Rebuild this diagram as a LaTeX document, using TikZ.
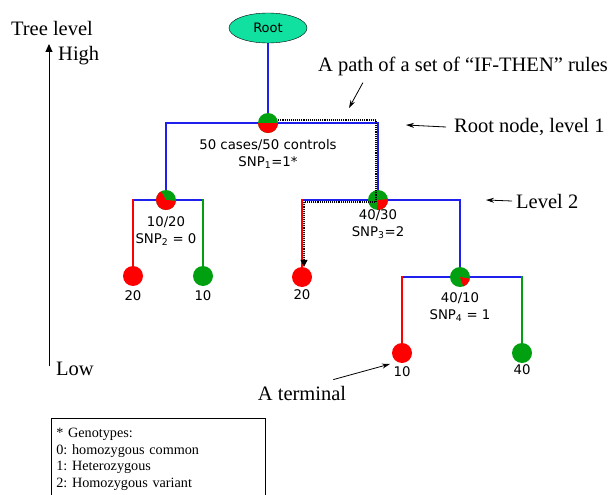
\documentclass[tikz,border=0pt]{standalone}
\usepackage{fontspec}
\setmainfont{Liberation Serif}
\newfontfamily\treefont{DejaVu Sans}
\usepackage{tikz}
\usetikzlibrary{positioning,arrows.meta,shapes.geometric,backgrounds,calc}
\frenchspacing
\definecolor{tred}{HTML}{FF0000}
\definecolor{tgreen}{HTML}{00A010}
\definecolor{tblue}{HTML}{2020EE}
\definecolor{trootfill}{HTML}{10E0A0}
\tikzset{troot/.style={ellipse, draw=black, fill=trootfill, minimum width=78pt, minimum height=30pt, inner sep=0pt, font=\treefont\fontsize{13}{15}\selectfont}}
\tikzset{tsplit/.style 2 args={circle, fill=tgreen, minimum size=20pt, inner sep=0pt, path picture={\fill[tred] (path picture bounding box.center) -- ++(#1:12pt) arc[start angle=#1, end angle=#2, radius=12pt] -- cycle;}}}
\tikzset{tleafred/.style={circle, fill=tred, minimum size=20pt, inner sep=0pt}}
\tikzset{tleafgreen/.style={tleafred, fill=tgreen}}
\tikzset{tinfo/.style={align=center, font=\treefont\fontsize{13.3}{17}\selectfont, inner sep=1pt}}
\tikzset{tcount/.style={font=\treefont\fontsize{13.3}{15}\selectfont, inner sep=1pt}}
\tikzset{tedge/.style={draw=tblue, line width=1.6pt, line cap=rect}}
\tikzset{tedgered/.style={tedge, draw=tred}}
\tikzset{tedgegreen/.style={tedge, draw=tgreen}}
\tikzset{tnote/.style={font=\fontsize{20.5}{24}\selectfont, inner sep=1pt}}
\tikzset{tarrow/.style={-{Stealth[length=8pt, width=5pt]}, draw=black, line width=0.8pt}}
\tikzset{tlevel/.style={-{Triangle[length=8pt, width=7pt]}, draw=black, line width=1pt}}
\tikzset{tpath/.style={densely dotted, draw=black, line width=1.1pt, -{Triangle[length=7pt, width=7pt]}}}
\tikzset{tlegend/.style={draw=black, line width=0.6pt, align=left, text width=204pt, minimum height=82pt, inner xsep=5pt, inner ysep=4pt, font=\fontsize{14.2}{16.7}\selectfont}}

\begin{document}
\begin{tikzpicture}[x=1pt, y=-1pt]
  \useasboundingbox (0,0) rectangle (616,495);
  \clip (0,0) rectangle (616,495);

  % tree nodes
  \node[troot] (root) at (268,28) {Root};
  \node[tsplit={180}{360}] (n1) at (268,123) {};
  \node[tsplit={120}{355}] (n2l) at (166,200) {};
  \node[tsplit={-95}{5}] (n2r) at (378,200) {};
  \node[tsplit={-70}{-10}] (n3) at (460,277) {};

  \node[tleafred] (l20a) at (133,276) {};
  \node[tleafgreen] (l10a) at (203,276) {};
  \node[tleafred] (l20b) at (302,277) {};
  \node[tleafred] (l10b) at (402,353) {};
  \node[tleafgreen] (l40) at (522,353) {};

  \coordinate (c2la) at (133,200);
  \coordinate (c2lb) at (203,200);
  \coordinate (c2ra) at (302,200);
  \coordinate (c3a) at (402,277);
  \coordinate (c3b) at (522,277);

  % labels
  \node[tinfo] (i1) at (268,154) {50 cases/50 controls\\SNP\textsubscript{1}=1*};
  \node[tinfo] (i2) at (166,231) {10/20\\SNP\textsubscript{2} = 0};
  \node[tinfo] (i3) at (378,224) {40/30\\SNP\textsubscript{3}=2};
  \node[tinfo] (i4) at (460,307) {40/10\\SNP\textsubscript{4} = 1};

  \node[tcount, below=3pt of l20a] (k20a) {20};
  \node[tcount, below=3pt of l10a] (k10a) {10};
  \node[tcount, below=1pt of l20b] (k20b) {20};
  \node[tcount, below=2pt of l10b] (k10b) {10};
  \node[tcount, below=0pt of l40] (k40) {40};

  \begin{scope}[on background layer]
    \draw[tedge] (root) -- (n1);
    \draw[tedge] (n1) -| (n2l);
    \draw[tedge] (n1) -| (n2r);
    \draw[tedge] (n2l) -- (c2la);
    \draw[tedgered] (c2la) -- (l20a);
    \draw[tedge] (n2l) -- (c2lb);
    \draw[tedgegreen] (c2lb) -- (l10a);
    \draw[tedge] (n2r) -- (c2ra);
    \draw[tedgered] (c2ra) -- (l20b);
    \draw[tedge] (n2r) -| (n3);
    \draw[tedge] (n3) -- (c3a);
    \draw[tedgered] (c3a) -- (l10b);
    \draw[tedge] (n3) -- (c3b);
    \draw[tedgegreen] (c3b) -- (l40);
  \end{scope}

  % IF-THEN path
  \coordinate (p1) at (376,120);
  \coordinate (p2) at (376,202);
  \coordinate (p3) at (304,202);
  \draw[tpath] (p1 -| n1.east) -- (p1) -- (p2) -- (p3) -- (p3 |- l20b.north);

  % notes
  \node[tnote] (lvltitle) at (52,28) {Tree level};
  \node[tnote, anchor=west] (lvlhigh) at (57,56) {High};
  \node[tnote, anchor=west] (lvllow) at (55,369) {Low};
  \coordinate (lvltop) at (49,44);
  \coordinate (lvlbot) at (49,366);
  \draw[tlevel] (lvlbot) -- (lvltop);

  \node[tnote] (pathnote) at (463,66) {A path of a set of ``IF-THEN'' rules};
  \coordinate (pathpt) at (349,108);
  \draw[tarrow] ([xshift=46pt, yshift=-6pt]pathnote.south west) -- (pathpt);

  \node[tnote, anchor=west] (rootnote) at (453,127) {Root node, level 1};
  \coordinate (rootpt) at (406,125);
  \draw[tarrow] ([xshift=-7pt]rootnote.west) -- (rootpt);

  \node[tnote, anchor=west] (lvl2note) at (515,201) {Level 2};
  \coordinate (lvl2pt) at (486,200);
  \draw[tarrow] ([xshift=-3pt]lvl2note.west) -- (lvl2pt);

  \node[tnote] (termnote) at (302,393) {A terminal};
  \coordinate (termpt) at (390,364);
  \draw[tarrow] ([xshift=-14pt, yshift=5pt]termnote.north east) -- (termpt);

  % legend
  \node[tlegend, anchor=north west] (legend) at (51,418) {* Genotypes:\\0: homozygous common\\1: Heterozygous\\2: Homozygous variant};
\end{tikzpicture}
\end{document}
